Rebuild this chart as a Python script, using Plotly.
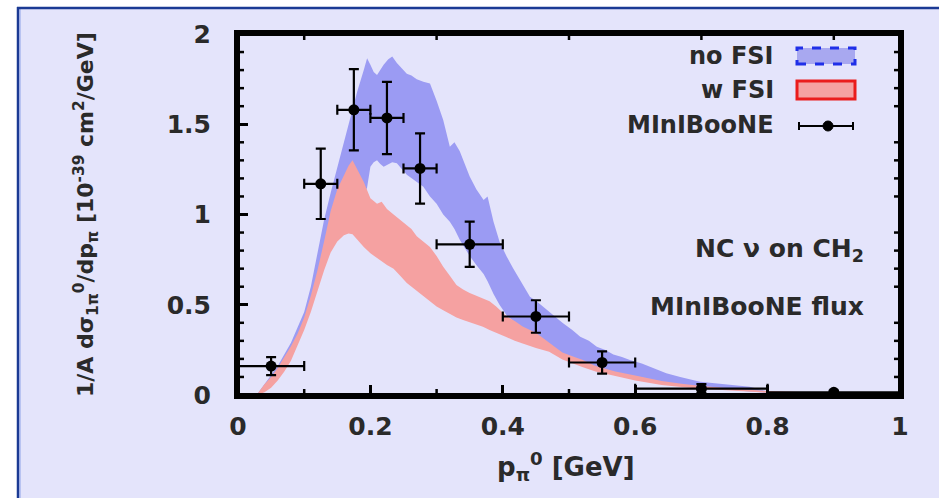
import plotly.graph_objects as go

# ---- model bands: no FSI (upper / lower edge) ----
NOFSI_X = [0.03, 0.04, 0.06, 0.08, 0.10, 0.11, 0.12, 0.13, 0.14, 0.15,
           0.16, 0.17, 0.18, 0.19, 0.195, 0.20, 0.205, 0.21, 0.215, 0.22,
           0.227, 0.233, 0.24, 0.248, 0.255, 0.262, 0.27, 0.28, 0.29, 0.30,
           0.31, 0.32, 0.327, 0.335, 0.35, 0.36, 0.371, 0.377, 0.386, 0.395,
           0.406, 0.416, 0.426, 0.441, 0.451, 0.461, 0.476, 0.491, 0.505, 0.517,
           0.53, 0.542, 0.555, 0.567, 0.58, 0.592, 0.61, 0.622, 0.647, 0.668,
           0.698, 0.72, 0.748, 0.773, 0.80, 0.85, 0.90, 0.95, 1.0]
NOFSI_HI = [0.01, 0.06, 0.16, 0.29, 0.46, 0.60, 0.78, 0.97, 1.12, 1.26,
            1.40, 1.53, 1.68, 1.80, 1.865, 1.83, 1.79, 1.773, 1.80, 1.83,
            1.86, 1.875, 1.84, 1.81, 1.78, 1.77, 1.75, 1.736, 1.726, 1.63,
            1.524, 1.376, 1.40, 1.35, 1.21, 1.14, 1.08, 1.10, 0.96, 0.85,
            0.766, 0.70, 0.637, 0.545, 0.52, 0.489, 0.44, 0.397, 0.36, 0.323,
            0.30, 0.268, 0.25, 0.225, 0.21, 0.194, 0.175, 0.157, 0.12, 0.10,
            0.074, 0.065, 0.055, 0.046, 0.02, 0.013, 0.01, 0.008, 0.006]
NOFSI_LO = [0.0, 0.02, 0.09, 0.21, 0.38, 0.48, 0.60, 0.72, 0.82, 0.90,
            0.95, 1.0, 1.05, 1.10, 1.15, 1.265, 1.29, 1.30, 1.28, 1.265,
            1.28, 1.29, 1.284, 1.25, 1.22, 1.20, 1.18, 1.154, 1.10, 1.06,
            1.0, 0.96, 0.92, 0.86, 0.77, 0.72, 0.67, 0.63, 0.56, 0.50,
            0.44, 0.41, 0.38, 0.35, 0.33, 0.30, 0.26, 0.23, 0.20, 0.18,
            0.165, 0.15, 0.135, 0.12, 0.11, 0.10, 0.085, 0.075, 0.06, 0.05,
            0.04, 0.035, 0.028, 0.02, 0.012, 0.007, 0.005, 0.003, 0.002]

# ---- model bands: with FSI ----
WFSI_X = [0.03, 0.04, 0.05, 0.06, 0.07, 0.08, 0.09, 0.10, 0.11, 0.12,
          0.13, 0.14, 0.15, 0.16, 0.167, 0.173, 0.18, 0.19, 0.20, 0.21,
          0.217, 0.225, 0.235, 0.245, 0.255, 0.262, 0.27, 0.28, 0.29, 0.30,
          0.31, 0.32, 0.33, 0.34, 0.35, 0.36, 0.37, 0.38, 0.39, 0.406,
          0.418, 0.43, 0.45, 0.47, 0.49, 0.505, 0.52, 0.54, 0.57, 0.60,
          0.64, 0.67, 0.70, 0.75, 0.80, 0.85, 0.90, 0.95, 1.0]
WFSI_HI = [0.01, 0.06, 0.10, 0.15, 0.21, 0.27, 0.34, 0.43, 0.55, 0.69,
           0.85, 1.02, 1.14, 1.22, 1.27, 1.30, 1.25, 1.18, 1.09, 1.06,
           1.07, 1.03, 1.0, 0.97, 0.94, 0.92, 0.88, 0.85, 0.82, 0.77,
           0.71, 0.66, 0.61, 0.585, 0.565, 0.55, 0.537, 0.52, 0.49, 0.435,
           0.41, 0.38, 0.345, 0.29, 0.235, 0.215, 0.195, 0.16, 0.13, 0.108,
           0.077, 0.062, 0.05, 0.035, 0.022, 0.016, 0.013, 0.011, 0.01]
WFSI_LO = [0.0, 0.015, 0.04, 0.08, 0.13, 0.19, 0.27, 0.36, 0.46, 0.57,
           0.69, 0.79, 0.85, 0.885, 0.895, 0.89, 0.86, 0.82, 0.785, 0.76,
           0.74, 0.72, 0.70, 0.66, 0.62, 0.60, 0.58, 0.545, 0.52, 0.49,
           0.47, 0.452, 0.43, 0.415, 0.40, 0.39, 0.378, 0.36, 0.342, 0.32,
           0.30, 0.285, 0.26, 0.24, 0.196, 0.175, 0.155, 0.13, 0.105, 0.08,
           0.056, 0.045, 0.035, 0.022, 0.012, 0.007, 0.005, 0.004, 0.003]

# ---- MiniBooNE measurement ----
DATA_P = [0.05, 0.125, 0.175, 0.225, 0.275, 0.35, 0.45, 0.55, 0.70, 0.90]
DATA_PERR = [0.05, 0.025, 0.025, 0.025, 0.025, 0.05, 0.05, 0.05, 0.10, 0.10]
DATA_XS = [0.16, 1.17, 1.58, 1.535, 1.255, 0.835, 0.435, 0.18, 0.035, 0.015]
DATA_XSERR = [0.05, 0.195, 0.225, 0.2, 0.195, 0.125, 0.09, 0.062, 0.025, 0.01]

X_TICKS = [0, 0.2, 0.4, 0.6, 0.8, 1]
X_TICK_LABELS = ["0", "0.2", "0.4", "0.6", "0.8", "1"]
X_MINOR = [0.1, 0.3, 0.5, 0.7, 0.9]
Y_TICKS = [0, 0.5, 1, 1.5, 2]
Y_TICK_LABELS = ["0", "0.5", "1", "1.5", "2"]
Y_MINOR = [0.1, 0.2, 0.3, 0.4, 0.6, 0.7, 0.8, 0.9, 1.1, 1.2, 1.3, 1.4,
           1.6, 1.7, 1.8, 1.9]

BG = "#e4e4fb"
BLUE_FILL = "#9b9bf3"
RED_FILL = "#f5a1a1"
INK = "#2a2a2a"
FONT = "DejaVu Sans"

W, H = 939, 498
L, R, T, B = 238, 900, 34, 395   # plot-area edges in pixels
PW, PH = R - L, B - T


def px(x):
    return (x - L) / PW


def py(y):
    return (B - y) / PH


def band(xs, hi, lo, color):
    return go.Scatter(x=list(xs) + list(xs)[::-1], y=list(hi) + list(lo)[::-1],
                      mode="lines", fill="toself", fillcolor=color,
                      line=dict(width=0, color=color), hoverinfo="skip")


fig = go.Figure()
fig.add_trace(band(NOFSI_X, NOFSI_HI, NOFSI_LO, BLUE_FILL))
fig.add_trace(band(WFSI_X, WFSI_HI, WFSI_LO, RED_FILL))
fig.add_trace(go.Scatter(
    x=DATA_P, y=DATA_XS, mode="markers",
    marker=dict(color="black", size=11),
    error_x=dict(type="data", array=DATA_PERR, color="black", thickness=2.2, width=5),
    error_y=dict(type="data", array=DATA_XSERR, color="black", thickness=2.2, width=5),
))

tickfont = dict(family=FONT, size=25, color=INK, weight="bold")
axis = dict(showline=True, linecolor="#000000", linewidth=4, mirror=True,
            ticks="inside", ticklen=10, tickwidth=3, tickcolor="#000000",
            showgrid=False, zeroline=False, tickfont=tickfont, tickmode="array")

fig.update_layout(
    xaxis=dict(range=[0, 1], tickvals=X_TICKS, ticktext=X_TICK_LABELS,
               ticklabelstandoff=6, **axis),
    yaxis=dict(range=[0, 2], tickvals=Y_TICKS, ticktext=Y_TICK_LABELS,
               ticklabelstandoff=18, **axis),
)

shapes = []


def seg(x0, y0, x1, y1, xref, yref, width, color="#000000", layer="above"):
    shapes.append(dict(type="line", xref=xref, yref=yref, x0=x0, y0=y0, x1=x1, y1=y1,
                       line=dict(color=color, width=width), layer=layer))


# page frame: white strips with a dark blue rule on the left and top
shapes.append(dict(type="rect", xref="paper", yref="paper", x0=px(0), x1=px(17),
                   y0=py(H), y1=py(0), fillcolor="white", line=dict(width=0),
                   layer="below"))
shapes.append(dict(type="rect", xref="paper", yref="paper", x0=px(0), x1=px(W),
                   y0=py(7), y1=py(0), fillcolor="white", line=dict(width=0),
                   layer="below"))
seg(px(18), py(H), px(18), py(7), "paper", "paper", 2.5, "#1b3a94", "below")
seg(px(20), py(H), px(20), py(9), "paper", "paper", 1, "#8da2e8", "below")
seg(px(17), py(8), px(W), py(8), "paper", "paper", 2.5, "#1b3a94", "below")

# inward minor ticks on all four sides
for t in X_MINOR:
    seg(t, 0, t, 6 / PH, "x", "paper", 2.5)
    seg(t, 1, t, 1 - 6 / PH, "x", "paper", 2.5)
for t in Y_MINOR:
    seg(0, t, 6 / PW, t, "paper", "y", 2.5)
    seg(1, t, 1 - 6 / PW, t, "paper", "y", 2.5)

# plot frame drawn as four edges
seg(0, 0, 1, 0, "paper", "paper", 4)
seg(0, 1, 1, 1, "paper", "paper", 4)
seg(0, 0, 0, 1, "paper", "paper", 4)
seg(1, 0, 1, 1, "paper", "paper", 4)

# legend keys
shapes.append(dict(type="rect", xref="paper", yref="paper", x0=px(797), x1=px(855),
                   y0=py(64), y1=py(48), fillcolor="#a8a8f0",
                   line=dict(color="#1f2fe8", width=3, dash="dash"), layer="above"))
shapes.append(dict(type="rect", xref="paper", yref="paper", x0=px(797), x1=px(855),
                   y0=py(99), y1=py(81), fillcolor=RED_FILL,
                   line=dict(color="#ea1c1c", width=3), layer="above"))
seg(px(799), py(126), px(853), py(126), "paper", "paper", 2)
for cx in (799, 853):
    seg(px(cx), py(122), px(cx), py(130), "paper", "paper", 2)
shapes.append(dict(type="circle", xref="paper", yref="paper", x0=px(823), x1=px(833),
                   y0=py(131), y1=py(121), fillcolor="black",
                   line=dict(color="black", width=1), layer="above"))

txt = dict(family=FONT, size=24, color=INK, weight="bold")
annotations = [
    dict(text="no FSI", x=px(776), y=py(56), xanchor="right", yanchor="middle", font=txt),
    dict(text="w FSI", x=px(776), y=py(90), xanchor="right", yanchor="middle", font=txt),
    dict(text="MInIBooNE", x=px(776), y=py(125), xanchor="right", yanchor="middle", font=txt),
    dict(text="NC ν on CH<sub>2</sub>", x=px(866), y=py(250), xanchor="right",
         yanchor="middle", font=dict(txt, size=25)),
    dict(text="MInIBooNE flux", x=px(866), y=py(306), xanchor="right",
         yanchor="middle", font=dict(txt, size=25)),
    dict(text="1/A dσ<sub>1π</sub><sup>0</sup>/dp<sub>π</sub> [10<sup>-39</sup> cm<sup>2</sup>/GeV]",
         x=px(86), y=py(215), xanchor="center", yanchor="middle", textangle=-90,
         font=dict(family=FONT, size=22, color=INK, weight="bold")),
    dict(text="p<sub>π</sub><sup>0</sup> [GeV]", x=px(566), y=py(466),
         xanchor="center", yanchor="middle",
         font=dict(family=FONT, size=26, color=INK, weight="bold")),
]
for a in annotations:
    a.update(xref="paper", yref="paper", showarrow=False)

fig.update_layout(
    width=W, height=H, autosize=False,
    margin=dict(l=L, r=W - R, t=T, b=H - B, pad=0),
    paper_bgcolor=BG, plot_bgcolor=BG,
    showlegend=False, shapes=shapes, annotations=annotations,
)

fig.write_html("out.html")
